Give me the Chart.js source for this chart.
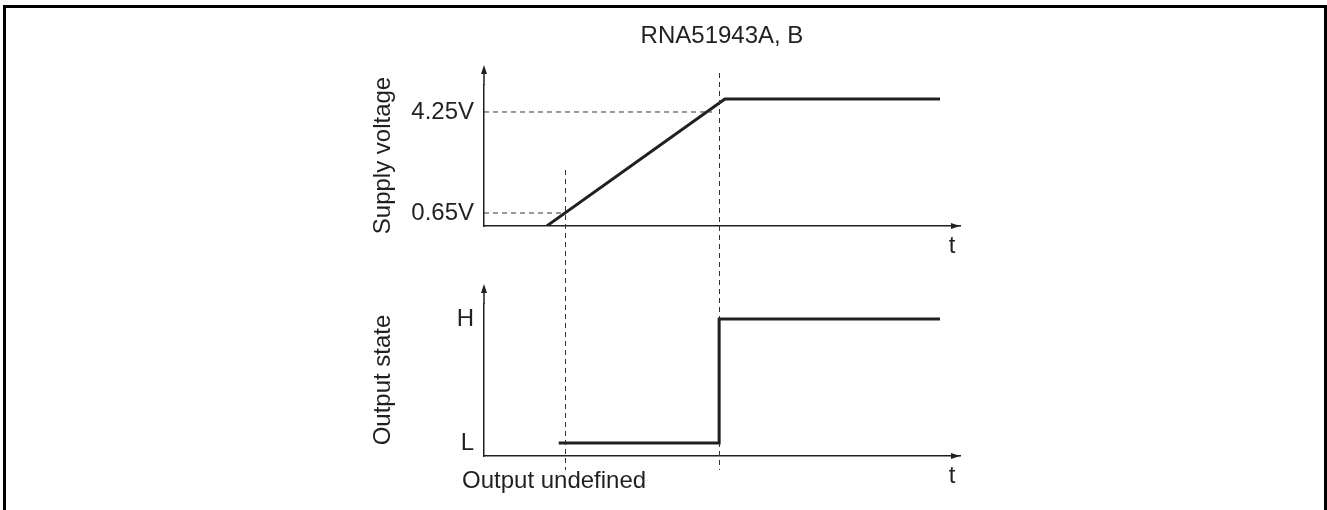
<!DOCTYPE html>
<html>
<head>
<meta charset="utf-8">
<script src="https://cdn.jsdelivr.net/npm/chart.js@4"></script>
<style>
  html, body { margin: 0; padding: 0; background: #fff; overflow: hidden; }
  #wrap { position: relative; width: 1327px; height: 510px; }
  #frame { position: absolute; left: 3px; top: 5px; width: 1324px; height: 520px; border: 3px solid #000; box-sizing: border-box; }
  canvas { position: absolute; left: 0; top: 0; }
</style>
</head>
<body>
<div id="wrap">
  <div id="frame"></div>
  <canvas id="supply" width="1327" height="510"></canvas>
  <canvas id="state" width="1327" height="510"></canvas>
</div>
<script>
const chartTitle = "RNA51943A, B";

// supply voltage vs time (time in arbitrary units 0..100)
const supplyT = [13.2, 50.6, 95.8];
const supplyV = [0.19, 4.71, 4.71];
const voltTicks = [0.65, 4.25];
const refEndT = [16.8, 47.9];      // where the dashed level lines meet the ramp

// output state vs time
const stateT = [15.7, 49.4, 49.4, 95.8];
const stateV = [0, 0, 1, 1];
const stateTicks = [0, 1];
const stateLabels = ["L", "H"];

// vertical dashed markers
const markerT = [17.1, 49.4];

const INK = "#231f20";
const FAMILY = "'Liberation Sans', Arial, sans-serif";
const font24 = { family: FAMILY, size: 24, weight: "normal" };

function pts(xs, ys) {
  return xs.map((x, i) => ({ x: x, y: ys[i] }));
}

function decor(axisTitle) {
  return {
    id: "decor",
    afterDraw(chart) {
      const ctx = chart.ctx, a = chart.chartArea;
      ctx.save();
      ctx.strokeStyle = INK;
      ctx.fillStyle = INK;
      ctx.lineWidth = 1.5;
      // y axis continues up to its arrow
      ctx.beginPath();
      ctx.moveTo(a.left, a.top);
      ctx.lineTo(a.left, a.top - 14);
      ctx.stroke();
      ctx.beginPath();
      ctx.moveTo(a.left, a.top - 20);
      ctx.lineTo(a.left - 3, a.top - 11);
      ctx.lineTo(a.left + 3, a.top - 11);
      ctx.closePath();
      ctx.fill();
      // x arrow
      ctx.beginPath();
      ctx.moveTo(a.right, a.bottom);
      ctx.lineTo(a.right - 9, a.bottom - 3);
      ctx.lineTo(a.right - 9, a.bottom + 3);
      ctx.closePath();
      ctx.fill();
      ctx.font = "24px " + FAMILY;
      ctx.textAlign = "center";
      ctx.textBaseline = "alphabetic";
      ctx.fillText("t", a.right - 8, a.bottom + 27);
      // axis title
      ctx.translate(a.left - 94, (a.top + a.bottom) / 2);
      ctx.rotate(-Math.PI / 2);
      ctx.fillText(axisTitle, 0, 0);
      ctx.restore();
    }
  };
}

const markers = {
  id: "markers",
  beforeDatasetsDraw(chart) {
    const ctx = chart.ctx, x = chart.scales.x;
    const tops = [170, 73];
    ctx.save();
    ctx.strokeStyle = "#333";
    ctx.lineWidth = 1;
    ctx.setLineDash([5, 4]);
    markerT.forEach((t, i) => {
      const px = Math.round(x.getPixelForValue(t)) + 0.5;
      ctx.beginPath();
      ctx.moveTo(px, tops[i]);
      ctx.lineTo(px, 470);
      ctx.stroke();
    });
    ctx.restore();
  },
  afterDraw(chart) {
    const ctx = chart.ctx;
    ctx.save();
    ctx.fillStyle = INK;
    ctx.font = "24px " + FAMILY;
    ctx.textAlign = "left";
    ctx.fillText("Output undefined", 462, 488);
    ctx.restore();
  }
};

function xScale(h) {
  return {
    type: "linear", min: 0, max: 100,
    grid: { display: false, drawTicks: false },
    ticks: { display: false },
    border: { color: INK, width: 1.5 },
    afterFit(s) { s.height = h; }
  };
}

const dashed = { borderColor: "#333", borderWidth: 1, borderDash: [5, 4], pointRadius: 0 };

new Chart(document.getElementById("supply"), {
  type: "line",
  data: {
    datasets: [
      { data: pts(supplyT, supplyV), borderColor: INK, borderWidth: 3, pointRadius: 0 },
      Object.assign({ data: pts([0, refEndT[0]], [voltTicks[0], voltTicks[0]]) }, dashed),
      Object.assign({ data: pts([0, refEndT[1]], [voltTicks[1], voltTicks[1]]) }, dashed)
    ]
  },
  options: {
    responsive: false,
    animation: false,
    events: [],
    layout: { padding: { left: 360, right: 367, top: 0, bottom: 254 } },
    plugins: {
      legend: { display: false },
      tooltip: { enabled: false },
      title: {
        display: true, text: chartTitle, fullSize: false, color: INK,
        font: font24, padding: { top: 22, bottom: 34.2 }
      }
    },
    scales: {
      x: xScale(30),
      y: {
        min: 0.187, max: 5.212,
        grid: { display: false, drawTicks: false },
        border: { color: INK, width: 1.5 },
        afterBuildTicks(s) { s.ticks = voltTicks.map(v => ({ value: v })); },
        ticks: { callback: v => v + "V", color: INK, font: font24, padding: 10 },
        afterFit(s) { s.width = 124; }
      }
    }
  },
  plugins: [decor("Supply voltage")]
});

new Chart(document.getElementById("state"), {
  type: "line",
  data: {
    datasets: [
      { data: pts(stateT, stateV), borderColor: INK, borderWidth: 3, pointRadius: 0 }
    ]
  },
  options: {
    responsive: false,
    animation: false,
    events: [],
    layout: { padding: { left: 360, right: 367, top: 304, bottom: 24 } },
    plugins: {
      legend: { display: false },
      tooltip: { enabled: false }
    },
    scales: {
      x: xScale(30),
      y: {
        min: -0.105, max: 1.121,
        grid: { display: false, drawTicks: false },
        border: { color: INK, width: 1.5 },
        afterBuildTicks(s) { s.ticks = stateTicks.map(v => ({ value: v })); },
        ticks: { callback: v => stateLabels[stateTicks.indexOf(v)], color: INK, font: font24, padding: 10 },
        afterFit(s) { s.width = 124; }
      }
    }
  },
  plugins: [decor("Output state"), markers]
});
</script>
</body>
</html>
